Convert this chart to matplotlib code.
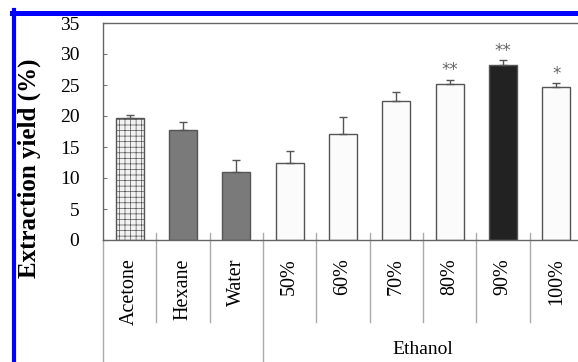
import matplotlib
matplotlib.use("Agg")
import matplotlib.pyplot as plt
from matplotlib.lines import Line2D
import matplotlib.transforms as mtransforms

categories = ["Acetone", "Hexane", "Water", "50%", "60%", "70%", "80%", "90%", "100%"]
yields = [19.7, 17.7, 11.0, 12.5, 17.1, 22.5, 25.2, 28.3, 24.6]
errors = [0.5, 1.3, 1.9, 1.9, 2.7, 1.4, 0.6, 0.7, 0.7]
significance = ["", "", "", "", "", "", "**", "**", "*"]
group_label = "Ethanol"
yticks = [0, 5, 10, 15, 20, 25, 30, 35]

facecolors = ["#f2f2f2", "#7a7a7a", "#7a7a7a", "#fbfbfb", "#fbfbfb",
              "#fbfbfb", "#fbfbfb", "#222222", "#fbfbfb"]

plt.rcParams["font.family"] = ["Liberation Serif", "DejaVu Serif"]
plt.rcParams["hatch.color"] = "#c4c4c4"
plt.rcParams["hatch.linewidth"] = 0.5

W, H = 578, 362
fig = plt.figure(figsize=(W / 100, H / 100), dpi=100)
ax_left, ax_right, ax_top, ax_bottom = 103, 583, 23, 240
axw, axh = ax_right - ax_left, ax_bottom - ax_top
ax = fig.add_axes([ax_left / W, 1 - ax_bottom / H, axw / W, axh / H])

x = list(range(len(categories)))
bars = ax.bar(x, yields, width=0.53, color=facecolors, edgecolor="#555555",
              linewidth=1.0, zorder=2)
bars[0].set_hatch("+++")
ax.errorbar(x, yields, yerr=[[0] * len(errors), errors], fmt="none",
            ecolor="#555555", elinewidth=1.0, capsize=3, capthick=1.0, zorder=3)

for xi, y, e, s in zip(x, yields, errors, significance):
    if s:
        ax.text(xi, y + e + 0.1, s, ha="center", va="bottom", fontsize=12,
                color="#666666", family="DejaVu Sans")

ax.set_xlim(-0.5, len(categories) - 0.5)
ax.set_ylim(0, 35)
ax.set_yticks(yticks)
ax.set_yticklabels([str(t) for t in yticks], fontsize=14)
ax.tick_params(axis="y", direction="in", length=3, width=0.8, color="#777777",
               pad=17)
ax.set_xticks(x)
ax.set_xticklabels(categories, rotation=90, fontsize=14.5, va="top")
ax.tick_params(axis="x", length=0, pad=13)

for side in ["left", "top", "bottom", "right"]:
    ax.spines[side].set_color("#666666")
    ax.spines[side].set_linewidth(1.0)

ax.set_ylabel("Extraction yield (%)", fontsize=18, fontweight="bold")
ax.yaxis.set_label_coords(-(ax_left - 41) / axw, (ax_bottom - 168) / axh)

trans = mtransforms.blended_transform_factory(ax.transData, ax.transAxes)
for i in range(len(categories) + 1):
    xs = i - 0.5
    if i in (0, 3):
        y0 = -(H - ax_bottom + 10) / axh
    else:
        y0 = -(322 - ax_bottom) / axh
    y1 = 7 / axh if i not in (0, len(categories)) else 0
    ax.add_line(Line2D([xs, xs], [y0, y1], transform=trans, color="#aaaaaa",
                       linewidth=1.0, clip_on=False))

ax.text(5.5, -(350 - ax_bottom) / axh, group_label, transform=trans,
        ha="center", va="center", fontsize=14)

# blue frame
fig.add_artist(Line2D([14 / W, 14 / W], [0, 1 - 10 / H], color="#0000ff",
                      linewidth=3, transform=fig.transFigure))
fig.add_artist(Line2D([12 / W, 1], [1 - 12.5 / H, 1 - 12.5 / H], color="#0000ff",
                      linewidth=3.6, transform=fig.transFigure))

fig.savefig("out.png", dpi=100)
